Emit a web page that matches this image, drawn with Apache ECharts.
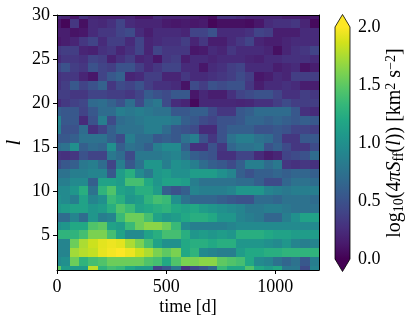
<!DOCTYPE html>
<html>
<head>
<meta charset="utf-8">
<style>
  html, body { margin: 0; padding: 0; background: #fff; }
  #chart { width: 415px; height: 326px; }
</style>
<script src="https://cdn.jsdelivr.net/npm/echarts@6/dist/echarts.min.js"></script>
</head>
<body>
<div id="chart"></div>
<script>
// time of each column [d]
const times = [-4, 38, 80, 122, 165, 207, 249, 291, 334, 376, 418, 460, 503, 545, 587,
  629, 672, 714, 756, 798, 841, 883, 925, 967, 1010, 1052, 1094, 1136, 1179];
// degree of each row
const degrees = [1, 2, 3, 4, 5, 6, 7, 8, 9, 10, 11, 12, 13, 14, 15, 16, 17, 18, 19, 20,
  21, 22, 23, 24, 25, 26, 27, 28, 29, 30];
// log10(4 pi S_ff(l)), one row per degree
const power = [
  [1.5, 1.1, 1.1, 1.1, 1.8, 1.3, 1.4, 1.35, 1.2, 1.1, 1.1, .4, .55, .8, .3, .45, .55, .7, 1.35, 1.2, 1.2, 1.45, 1.2, 1.1, 1.2, .8, .8, .45, .9],
  [.95, 1.0, 1.55, 1.3, 1.4, 1.45, 1.55, 1.55, 1.55, 1.55, 1.45, 1.4, 1.2, 1.45, 1.6, 1.6, 1.65, 1.65, 1.5, 1.45, 1.4, 1.2, .95, .9, .75, .65, .75, .55, .85],
  [.9, .9, 1.72, 1.78, 1.82, 1.93, 1.97, 2.0, 1.95, 1.85, 1.75, 1.6, 1.5, 1.6, 1.2, 1.3, .95, .9, .85, .85, 1.1, 1.2, 1.2, 1.25, 1.25, 1.3, 1.3, 1.3, 1.3],
  [.9, .9, 1.55, 1.75, 1.85, 1.92, 1.95, 1.92, 1.75, 1.6, 1.4, 1.15, 1.0, 1.0, 1.2, 1.25, 1.25, 1.2, 1.25, 1.25, 1.05, 1.05, 1.05, 1.0, .95, 1.05, .9, .85, .9],
  [1.3, 1.3, 1.3, 1.4, 1.6, 1.6, 1.4, 1.15, .95, .95, 1.15, 1.25, 1.4, 1.4, 1.25, 1.05, 1.1, 1.05, 1.1, 1.05, 1.25, 1.25, 1.25, 1.2, 1.15, 1.15, 1.1, 1.1, 1.1],
  [1.0, 1.05, 1.2, 1.2, 1.45, 1.5, 1.15, 1.1, 1.35, 1.55, 1.65, 1.65, 1.55, 1.35, .95, .85, .85, .85, .85, .9, .95, .95, .95, .95, .95, .95, .95, .95, .95],
  [.7, .7, .9, .7, 1.05, .85, .9, 1.35, 1.55, 1.55, 1.4, 1.15, 1.05, 1.1, 1.2, 1.25, 1.25, 1.2, 1.05, 1.05, .9, .85, .8, .65, .65, .85, 1.0, 1.15, 1.15],
  [1.05, 1.1, 1.15, 1.15, 1.05, 1.1, 1.25, 1.45, 1.35, 1.15, 1.2, 1.25, 1.3, 1.2, 1.15, 1.2, 1.1, 1.05, 1.0, .95, .9, .8, .8, .85, .85, .8, .75, .75, .75],
  [1.0, .95, .85, 1.15, .9, 1.0, 1.35, 1.25, 1.05, 1.1, 1.3, 1.4, 1.35, 1.0, .75, .65, .65, .65, .6, .55, .5, .5, .7, .7, .65, .75, .75, .75, .7],
  [.95, .95, 1.05, 1.25, .75, 1.3, 1.45, 1.15, 1.1, 1.25, 1.25, 1.1, .6, .5, .6, .9, .85, .85, .85, .9, 1.05, 1.05, 1.05, .9, .85, .8, .85, .85, .85],
  [.85, .85, .95, .95, .6, 1.15, 1.15, 1.1, 1.4, 1.4, 1.2, 1.05, 1.15, 1.15, 1.1, .85, .75, .75, .75, .75, .7, .7, .6, .45, .45, .65, .75, .75, .7],
  [.75, .75, .85, .85, .9, .9, .55, 1.1, 1.25, .95, .8, 1.05, 1.1, 1.0, 1.0, 1.1, 1.1, 1.1, 1.0, .9, .6, .5, .6, .6, .65, .6, .65, .65, .6],
  [.45, .55, .6, .8, .85, .7, .4, .85, .55, .75, 1.05, 1.05, .85, 1.0, .95, .85, .7, .6, .55, .45, .6, .85, .85, .7, .8, .32, .28, .32, .28],
  [.3, .28, .32, .5, .4, .4, .8, .7, .45, .8, .8, .8, .85, .9, .75, .6, .55, .5, .28, .28, .4, .4, .24, .15, .2, .4, .45, .5, .7],
  [.7, .75, 1.0, .6, .7, .65, 1.0, .6, .75, .7, .6, .85, .95, .95, .6, .28, .28, .5, .32, .65, .75, .75, .8, .5, .6, .45, .32, .32, .45],
  [.55, .55, .6, .75, .75, .75, .6, .45, .85, .7, .7, .55, .6, .55, .75, .85, .5, .32, .5, .75, .85, .85, .75, .7, .55, .32, .32, .55, .55],
  [.85, .5, .5, .7, .28, .4, .6, .75, .75, .75, .85, .85, .7, .55, .5, .45, .24, .24, .5, .6, .6, .6, .5, .5, .55, .5, .4, .4, .36],
  [.9, .55, .55, .24, .5, .85, .45, .7, .75, .8, .85, .85, .85, .8, .6, .55, .45, .4, .5, .5, .55, .65, .65, .6, .65, .6, .55, .6, .55],
  [.6, .55, .55, .4, .55, .7, .7, .85, .8, .85, .8, .75, .75, .55, .55, .6, .6, .45, .32, .32, .55, .6, .7, .7, .7, .7, .55, .28, .24],
  [.25, .33, .38, .42, .68, .72, .62, .5, .72, .45, .72, .8, .45, .25, .2, .05, .22, .22, .22, .22, .2, .22, .28, .28, .36, .45, .36, .36, .36],
  [.36, .36, .32, .32, .4, .4, .36, .36, .32, .4, .58, .5, .45, .55, .55, .12, .22, .16, .16, .28, .4, .45, .5, .5, .4, .28, .28, .36, .32],
  [.28, .36, .55, .4, .5, .62, .32, .45, .4, .5, .36, .28, .28, .24, .1, .45, .36, .5, .45, .5, .5, .32, .16, .24, .24, .28, .24, .16, .16],
  [.28, .32, .32, .2, .12, .4, .55, .62, .2, .24, .36, .36, .2, .2, .32, .24, .24, .28, .32, .36, .45, .36, .12, .16, .24, .2, .36, .36, .36],
  [.4, .5, .36, .32, .5, .4, .36, .5, .5, .36, .24, .32, .4, .4, .24, .24, .12, .24, .28, .36, .4, .24, .24, .24, .16, .2, .24, .1, .16],
  [.24, .32, .32, .28, .4, .36, .18, .28, .36, .2, .24, .12, .32, .36, .16, .24, .24, .2, .24, .24, .24, .2, .18, .24, .24, .28, .28, .28, .24],
  [.32, .36, .36, .2, .18, .28, .32, .2, .28, .4, .2, .4, .32, .32, .32, .12, .14, .24, .2, .32, .24, .24, .24, .2, .08, .2, .28, .32, .4],
  [.12, .16, .2, .32, .4, .24, .36, .36, .24, .4, .2, .24, .28, .28, .36, .2, .32, .16, .16, .24, .32, .4, .2, .16, .16, .2, .24, .24, .24],
  [.16, .16, .1, .12, .24, .32, .32, .4, .45, .24, .16, .24, .24, .24, .2, .4, .4, .5, .24, .24, .24, .28, .4, .36, .16, .16, .16, .24, .24],
  [.12, .03, .32, .08, .24, .22, .28, .4, .24, .2, .2, .2, .14, .12, .14, .12, .14, .03, .08, .08, .08, .06, .12, .24, .28, .28, .32, .2, .05],
  [.24, .2, .12, .28, .2, .18, .18, .18, .2, .12, .12, .24, .2, .2, .2, .16, .12, .08, .28, .28, .24, .2, .2, .2, .2, .16, .16, .12, .12]
];
const timeTicks = [0, 500, 1000];
const degreeTicks = [5, 10, 15, 20, 25, 30];

const viridis = ['#440154', '#481a6c', '#472f7d', '#414487', '#39568c', '#31688e', '#2a788e', '#23888e',
  '#1f988b', '#22a884', '#35b779', '#54c568', '#7ad151', '#a5db36', '#d2e21b', '#fde725'];

const FONT = '"Liberation Serif", "Times New Roman", serif';
const TMIN = 0, TMAX = 1200, LMIN = 1, LMAX = 30;
const VMIN = 0, VMAX = 2;
const TIP = 0.108; // colorbar extend triangle height, in colorbar units

// cell edges are the midpoints between neighbours, clipped to the axes
function edges(list, lo, hi) {
  return list.map((v, i) => {
    const prev = i > 0 ? (list[i - 1] + v) / 2 : v - (list[1] - list[0]) / 2;
    const next = i < list.length - 1 ? (v + list[i + 1]) / 2 : v + (v - list[i - 1]) / 2;
    return [Math.max(prev, lo), Math.min(next, hi)];
  });
}
const tEdges = edges(times, TMIN, TMAX);
const lEdges = edges(degrees, LMIN, LMAX);
const cells = [];
power.forEach((row, j) => {
  row.forEach((v, i) => {
    cells.push([tEdges[i][0], tEdges[i][1], lEdges[j][0], lEdges[j][1], v]);
  });
});

function renderCell(params, api) {
  const a = api.coord([api.value(0), api.value(2)]);
  const b = api.coord([api.value(1), api.value(3)]);
  const x = Math.round(a[0]), y = Math.round(b[1]);
  return {
    type: 'rect',
    shape: { x: x, y: y, width: Math.round(b[0]) - x, height: Math.round(a[1]) - y },
    style: { fill: api.visual('color') }
  };
}

function renderColorbar(params, api) {
  const top = api.coord([0, VMAX]);
  const bottom = api.coord([0, VMIN]);
  const right = api.coord([1, VMIN])[0];
  const left = top[0];
  const mid = (left + right) / 2;
  const tipTop = api.coord([0, VMAX + TIP])[1];
  const tipBottom = api.coord([0, VMIN - TIP])[1];
  const edge = { stroke: '#000', lineWidth: 0.8 };
  return {
    type: 'group',
    children: [
      {
        type: 'rect',
        shape: { x: left, y: top[1], width: right - left, height: bottom[1] - top[1] },
        style: {
          fill: new echarts.graphic.LinearGradient(0, 1, 0, 0,
            viridis.map((c, i) => ({ offset: i / (viridis.length - 1), color: c })))
        }
      },
      {
        type: 'polygon',
        shape: { points: [[left, top[1]], [mid, tipTop], [right, top[1]]] },
        style: { fill: viridis[viridis.length - 1] }
      },
      {
        type: 'polygon',
        shape: { points: [[left, bottom[1]], [mid, tipBottom], [right, bottom[1]]] },
        style: { fill: viridis[0] }
      },
      {
        type: 'polygon',
        shape: {
          points: [[left, top[1]], [mid, tipTop], [right, top[1]], [right, bottom[1]],
            [mid, tipBottom], [left, bottom[1]]]
        },
        style: Object.assign({ fill: 'none' }, edge)
      }
    ]
  };
}

const sup = { fontFamily: FONT, fontSize: 14, verticalAlign: 'top', lineHeight: 22, padding: [0, 0, 6, 0] };
const sub = { fontFamily: FONT, fontSize: 14, verticalAlign: 'bottom', lineHeight: 22, padding: [6, 0, 0, 0] };
const cbarName = '{n|log}{s|10}{n|(4}{i|πS}{s|ff}{n|(}{i|l}{n|)) [km}{u|2}{n| s}{u|−2}{n|]}';

const chart = echarts.init(document.getElementById('chart'), null, { renderer: 'canvas' });
chart.setOption({
  animation: false,
  textStyle: { fontFamily: FONT, color: '#000' },
  grid: [
    { left: 57, top: 15, width: 262, height: 255, outerBoundsMode: 'none' },
    { left: 335, top: 27, width: 15, height: 232, outerBoundsMode: 'none' }
  ],
  xAxis: [
    {
      gridIndex: 0, type: 'value', min: TMIN, max: TMAX, z: 5,
      name: 'time [d]', nameLocation: 'middle', nameGap: 28, nameMoveOverlap: false,
      nameTextStyle: { fontFamily: FONT, fontSize: 18, color: '#000' },
      axisLine: { onZero: false, lineStyle: { color: '#000', width: 1 } },
      axisTick: { length: 4, customValues: timeTicks, lineStyle: { color: '#000', width: 1 } },
      axisLabel: { customValues: timeTicks, fontFamily: FONT, fontSize: 18, color: '#000', margin: 8, formatter: v => String(v) },
      splitLine: { show: false }
    },
    {
      gridIndex: 0, type: 'value', min: TMIN, max: TMAX, position: 'top', z: 5,
      axisLine: { onZero: false, lineStyle: { color: '#000', width: 1 } },
      axisTick: { show: false }, axisLabel: { show: false }, splitLine: { show: false }
    },
    { gridIndex: 1, type: 'value', min: 0, max: 1, show: false }
  ],
  yAxis: [
    {
      gridIndex: 0, type: 'value', min: LMIN, max: LMAX, z: 5,
      name: 'l', nameLocation: 'middle', nameGap: 32, nameRotate: 90, nameMoveOverlap: false,
      nameTextStyle: { fontFamily: FONT, fontSize: 21, fontStyle: 'italic', color: '#000' },
      axisLine: { onZero: false, lineStyle: { color: '#000', width: 1 } },
      axisTick: { length: 4, customValues: degreeTicks, lineStyle: { color: '#000', width: 1 } },
      axisLabel: { customValues: degreeTicks, fontFamily: FONT, fontSize: 18, color: '#000', margin: 7 },
      splitLine: { show: false }
    },
    {
      gridIndex: 0, type: 'value', min: LMIN, max: LMAX, position: 'right', z: 5,
      axisLine: { onZero: false, lineStyle: { color: '#000', width: 1 } },
      axisTick: { show: false }, axisLabel: { show: false }, splitLine: { show: false }
    },
    {
      gridIndex: 1, type: 'value', min: VMIN, max: VMAX, interval: 0.5, position: 'right',
      name: cbarName, nameLocation: 'middle', nameGap: 34, nameRotate: 90, nameMoveOverlap: false,
      nameTextStyle: {
        fontFamily: FONT, fontSize: 20, color: '#000',
        rich: {
          n: { fontFamily: FONT, fontSize: 20, lineHeight: 22, color: '#000' },
          i: { fontFamily: FONT, fontSize: 20, fontStyle: 'italic', lineHeight: 22, color: '#000' },
          s: sub,
          u: sup
        }
      },
      axisLine: { show: false },
      axisTick: { length: 4, lineStyle: { color: '#000', width: 1 } },
      axisLabel: {
        fontFamily: FONT, fontSize: 18, color: '#000', margin: 8,
        formatter: v => v.toFixed(1)
      },
      splitLine: { show: false }
    }
  ],
  visualMap: {
    show: false, seriesIndex: 0, dimension: 4, min: VMIN, max: VMAX,
    inRange: { color: viridis }
  },
  series: [
    {
      type: 'custom', xAxisIndex: 0, yAxisIndex: 0, silent: true,
      renderItem: renderCell,
      encode: { x: [0, 1], y: [2, 3] },
      data: cells
    },
    {
      type: 'custom', xAxisIndex: 2, yAxisIndex: 2, silent: true, clip: false,
      renderItem: renderColorbar,
      data: [[0, 0]]
    }
  ]
});
</script>
</body>
</html>
